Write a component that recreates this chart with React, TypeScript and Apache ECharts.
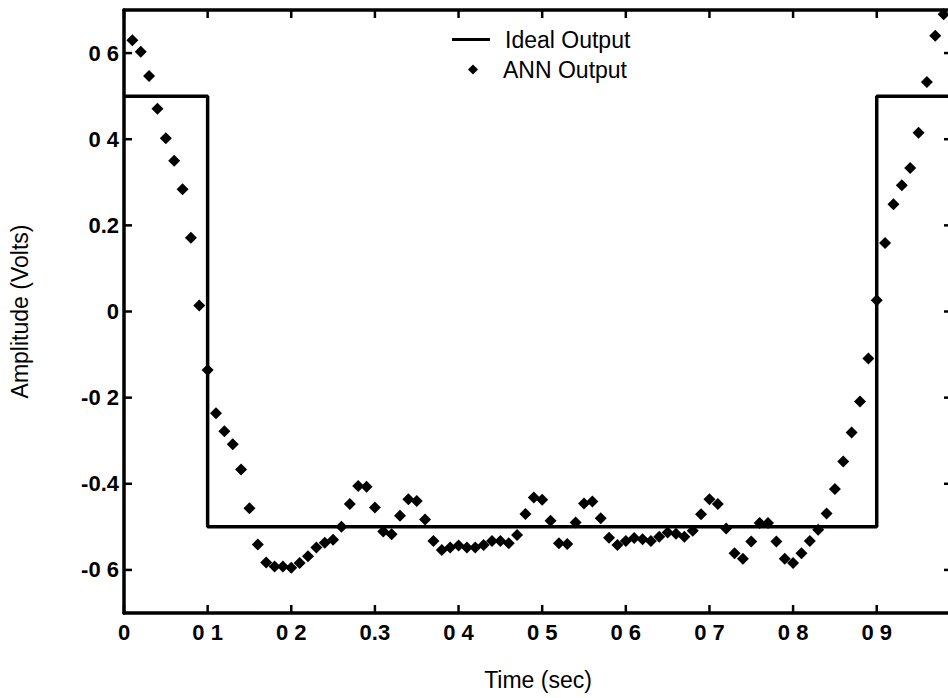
import React, { useEffect, useRef } from "react";
import * as echarts from "echarts";

// ANN output samples (time in s, amplitude in V)
const annTimes = [
  0.01, 0.02, 0.03, 0.04, 0.05, 0.06, 0.07, 0.08, 0.09, 0.1,
  0.11, 0.12, 0.13, 0.14, 0.15, 0.16, 0.17, 0.18, 0.19, 0.2,
  0.21, 0.22, 0.23, 0.24, 0.25, 0.26, 0.27, 0.28, 0.29, 0.3,
  0.31, 0.32, 0.33, 0.34, 0.35, 0.36, 0.37, 0.38, 0.39, 0.4,
  0.41, 0.42, 0.43, 0.44, 0.45, 0.46, 0.47, 0.48, 0.49, 0.5,
  0.51, 0.52, 0.53, 0.54, 0.55, 0.56, 0.57, 0.58, 0.59, 0.6,
  0.61, 0.62, 0.63, 0.64, 0.65, 0.66, 0.67, 0.68, 0.69, 0.7,
  0.71, 0.72, 0.73, 0.74, 0.75, 0.76, 0.77, 0.78, 0.79, 0.8,
  0.81, 0.82, 0.83, 0.84, 0.85, 0.86, 0.87, 0.88, 0.89, 0.9,
  0.91, 0.92, 0.93, 0.94, 0.95, 0.96, 0.97, 0.98,
];
const annValues = [
  0.63, 0.603, 0.547, 0.471, 0.402, 0.35, 0.284, 0.171, 0.014, -0.136,
  -0.236, -0.278, -0.308, -0.367, -0.457, -0.541, -0.583, -0.592, -0.592, -0.595,
  -0.584, -0.568, -0.548, -0.537, -0.53, -0.5, -0.447, -0.405, -0.407, -0.455,
  -0.511, -0.517, -0.474, -0.436, -0.44, -0.483, -0.533, -0.554, -0.548, -0.543,
  -0.548, -0.548, -0.542, -0.533, -0.533, -0.538, -0.519, -0.47, -0.432, -0.437,
  -0.486, -0.538, -0.54, -0.49, -0.446, -0.441, -0.48, -0.525, -0.542, -0.533,
  -0.526, -0.529, -0.533, -0.523, -0.513, -0.516, -0.523, -0.509, -0.471, -0.436,
  -0.447, -0.504, -0.561, -0.574, -0.534, -0.491, -0.491, -0.534, -0.574, -0.584,
  -0.561, -0.533, -0.507, -0.469, -0.412, -0.348, -0.281, -0.209, -0.109, 0.026,
  0.159, 0.249, 0.293, 0.333, 0.415, 0.533, 0.64, 0.69,
];

// Ideal square-wave output
const idealTimes = [0, 0.1, 0.1, 0.9, 0.9, 0.99];
const idealValues = [0.5, 0.5, -0.5, -0.5, 0.5, 0.5];

// Axis ranges and tick labels as printed
const xRange = [0, 0.99];
const yRange = [-0.7, 0.7];
const xTickValues = [0, 0.1, 0.2, 0.3, 0.4, 0.5, 0.6, 0.7, 0.8, 0.9];
const xTickLabels = ["0", "0 1", "0 2", "0.3", "0 4", "0 5", "0 6", "0 7", "0 8", "0 9"];
const yTickValues = [-0.6, -0.4, -0.2, 0, 0.2, 0.4, 0.6];
const yTickLabels = ["-0 6", "-0.4", "-0 2", "0", "0.2", "0 4", "0 6"];

const FONT = "'Liberation Sans', Arial, Helvetica, sans-serif";
const TICK_LEN = 8;

function labelFor(values: number[], labels: string[]) {
  return (v: number) => {
    const i = values.findIndex((t) => Math.abs(t - v) < 1e-6);
    return i >= 0 ? labels[i] : "";
  };
}

export default function App() {
  const ref = useRef<HTMLDivElement>(null);

  useEffect(() => {
    if (!ref.current) return;
    const chart = echarts.init(ref.current, undefined, { renderer: "svg" });

    const axisLine = { show: true, onZero: false, lineStyle: { color: "#000", width: 3.5 } };
    const tickLabelStyle = {
      fontSize: 22,
      fontWeight: "bold",
      fontFamily: FONT,
      color: "#000",
    };
    const titleStyle = { fontSize: 23, fontFamily: FONT, color: "#000" };
    const tickStroke = { stroke: "#000", lineWidth: 2.5 };

    chart.setOption({
      animation: false,
      backgroundColor: "#fff",
      grid: { left: 121, right: 8, top: 10, bottom: 85, containLabel: false },
      legend: [
        {
          data: [{ name: "Ideal Output", icon: "rect" }],
          left: 452,
          top: 28,
          padding: 0,
          orient: "vertical",
          itemWidth: 38,
          itemHeight: 3,
          selectedMode: false,
          itemStyle: { color: "#000" },
          textStyle: { ...titleStyle, padding: [0, 0, 0, 10] },
        },
        {
          data: [{ name: "ANN Output", icon: "diamond" }],
          left: 468,
          top: 58,
          padding: 0,
          orient: "vertical",
          itemWidth: 10,
          itemHeight: 10,
          selectedMode: false,
          itemStyle: { color: "#000" },
          textStyle: { ...titleStyle, padding: [0, 0, 0, 20] },
        },
      ],
      xAxis: [
        {
          type: "value",
          position: "bottom",
          min: xRange[0],
          max: xRange[1],
          axisLine,
          axisTick: { show: false },
          axisLabel: {
            ...tickLabelStyle,
            customValues: xTickValues,
            formatter: labelFor(xTickValues, xTickLabels),
            margin: 8,
          },
          splitLine: { show: false },
          name: "Time (sec)",
          nameLocation: "middle",
          nameGap: 55,
          nameTextStyle: titleStyle,
        },
        {
          type: "value",
          position: "top",
          min: xRange[0],
          max: xRange[1],
          axisLine,
          axisTick: { show: false },
          axisLabel: { show: false },
          splitLine: { show: false },
        },
      ],
      yAxis: [
        {
          type: "value",
          position: "left",
          min: yRange[0],
          max: yRange[1],
          axisLine,
          axisTick: { show: false },
          axisLabel: {
            ...tickLabelStyle,
            customValues: yTickValues,
            formatter: labelFor(yTickValues, yTickLabels),
            margin: 5,
          },
          splitLine: { show: false },
          name: "Amplitude (Volts)",
          nameLocation: "middle",
          nameGap: 93,
          nameTextStyle: titleStyle,
        },
        {
          type: "value",
          position: "right",
          min: yRange[0],
          max: yRange[1],
          axisLine,
          axisTick: { show: false },
          axisLabel: { show: false },
          splitLine: { show: false },
        },
      ],
      series: [
        {
          name: "Ideal Output",
          type: "line",
          data: idealTimes.map((t, i) => [t, idealValues[i]]),
          symbol: "none",
          lineStyle: { color: "#000", width: 3.5 },
          itemStyle: { color: "#000" },
          z: 2,
        },
        {
          name: "ANN Output",
          type: "scatter",
          data: annTimes.map((t, i) => [t, annValues[i]]),
          symbol: "diamond",
          symbolSize: 12,
          itemStyle: { color: "#000", opacity: 1 },
          z: 3,
        },
        {
          // inward ticks on bottom and top axes
          type: "custom",
          silent: true,
          z: 4,
          data: xTickValues.map((v) => [v, 0]),
          renderItem: (_params: any, api: any) => {
            const v = api.value(0);
            const b = api.coord([v, yRange[0]]);
            const t = api.coord([v, yRange[1]]);
            return {
              type: "group",
              children: [
                { type: "line", shape: { x1: b[0], y1: b[1], x2: b[0], y2: b[1] - TICK_LEN }, style: tickStroke },
                { type: "line", shape: { x1: t[0], y1: t[1], x2: t[0], y2: t[1] + TICK_LEN }, style: tickStroke },
              ],
            };
          },
        },
        {
          // inward ticks on left and right axes
          type: "custom",
          silent: true,
          z: 4,
          data: yTickValues.map((v) => [0, v]),
          renderItem: (_params: any, api: any) => {
            const v = api.value(1);
            const l = api.coord([xRange[0], v]);
            const r = api.coord([xRange[1], v]);
            return {
              type: "group",
              children: [
                { type: "line", shape: { x1: l[0], y1: l[1], x2: l[0] + TICK_LEN, y2: l[1] }, style: tickStroke },
                { type: "line", shape: { x1: r[0], y1: r[1], x2: r[0] - TICK_LEN, y2: r[1] }, style: tickStroke },
              ],
            };
          },
        },
      ],
    });

    return () => chart.dispose();
  }, []);

  return (
    <div
      style={{
        position: "fixed",
        left: 0,
        top: 0,
        width: 948,
        height: 698,
        overflow: "hidden",
        background: "#fff",
      }}
    >
      <div ref={ref} style={{ width: 960, height: 698 }} />
    </div>
  );
}
